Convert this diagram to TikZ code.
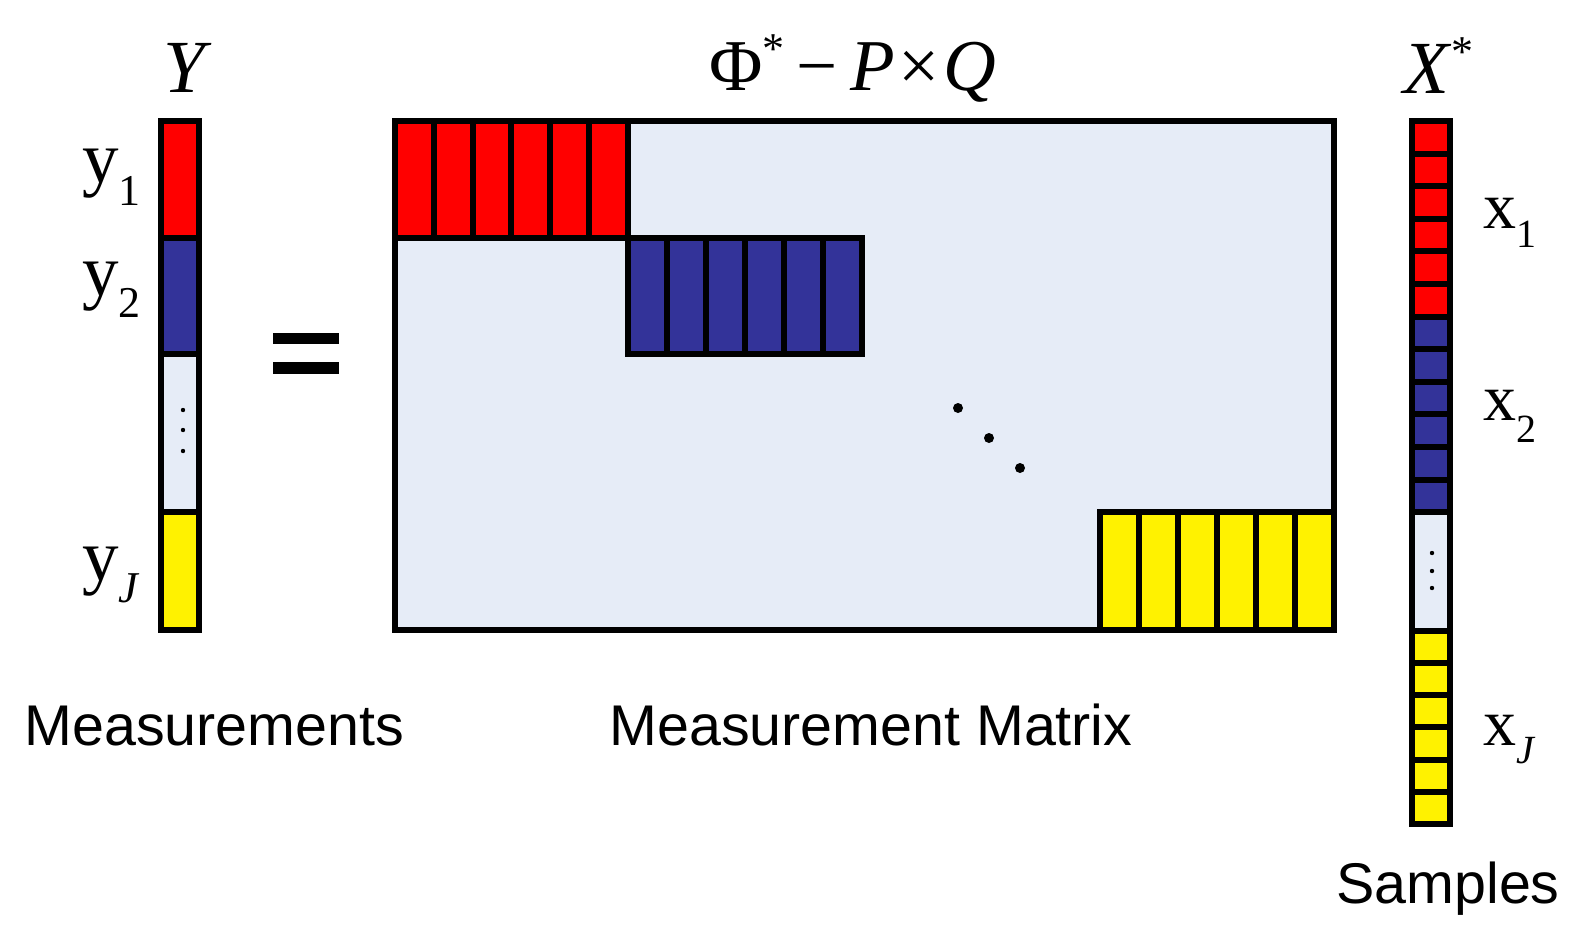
\documentclass[tikz,border=0pt]{standalone}
\usepackage{fontspec}
\setmainfont{Liberation Sans}
\newfontfamily\timesfont{Liberation Serif}
\definecolor{paleblue}{HTML}{E6ECF7}
\definecolor{darkblue}{HTML}{333399}
% lowered subscript: drop, size, text
\newcommand{\lowsub}[3]{\raisebox{-#1}{\fontsize{#2}{#2}\selectfont #3}}
\newcommand{\highstar}{\raisebox{13.5pt}{\fontsize{22}{22}\selectfont *}}

\begin{document}
\begin{tikzpicture}[x=0.5pt, y=-0.5pt,
    cell/.style={draw=black, line width=3pt},
    caption/.style={anchor=base west, inner sep=0pt, font=\fontsize{28.7}{34}\selectfont},
    symbol/.style={anchor=base west, inner sep=0pt, font=\timesfont\fontsize{36.5}{40}\selectfont},
    smallsymbol/.style={symbol, font=\timesfont\fontsize{33}{36}\selectfont}
]
    \useasboundingbox (0,0) rectangle (1576,938);

    % Measurements Y
    \draw[cell, fill=red] (161,121) rectangle (199,238);
    \draw[cell, fill=darkblue] (161,238) rectangle (199,354);
    \draw[cell, fill=paleblue] (161,354) rectangle (199,512);
    \draw[cell, fill=yellow] (161,512) rectangle (199,630);
    \foreach \y in {410,430,451}
        \fill (183,\y) circle[radius=2.2];

    \node[symbol, anchor=base, font=\timesfont\itshape\fontsize{37.5}{40}\selectfont] (ylabel) at (184,92) {Y};
    \node[symbol] (y1) at (82,182) {y\lowsub{11.5pt}{22pt}{1}};
    \node[symbol] (y2) at (82,295) {y\lowsub{11pt}{22pt}{2}};
    \node[symbol] (yj) at (82,580) {y\lowsub{11pt}{22pt}{\textit{J}}};

    % Equals sign
    \fill (273,333) rectangle (339,344);
    \fill (273,362) rectangle (339,374);

    % Measurement matrix
    \draw[cell, fill=paleblue] (395,121) rectangle (1334,630);
    \foreach \i in {0,...,5} {
        \draw[cell, fill=red] ({395+\i*38.83},121) rectangle ({395+(\i+1)*38.83},238);
        \draw[cell, fill=darkblue] ({628+\i*39},238) rectangle ({628+(\i+1)*39},354);
        \draw[cell, fill=yellow] ({1100+\i*39},512) rectangle ({1100+(\i+1)*39},630);
    }
    \draw[cell] (395,121) rectangle (1334,630);
    \fill (958,408) circle[radius=5];
    \fill (989,438) circle[radius=5];
    \fill (1020,468) circle[radius=5];

    \node[symbol, anchor=base] (philabel) at (853,90)
        {Φ\highstar\,−\,\textit{P}\hspace{2pt}×\hspace{2pt}\textit{Q}};

    % Samples X*
    \foreach \i in {0,...,5} {
        \draw[cell, fill=red] (1412,{121+\i*32.6}) rectangle (1450,{121+(\i+1)*32.6});
        \draw[cell, fill=darkblue] (1412,{316.6+\i*32.6}) rectangle (1450,{316.6+(\i+1)*32.6});
        \draw[cell, fill=yellow] (1412,{630.5+\i*32.25}) rectangle (1450,{630.5+(\i+1)*32.25});
    }
    \draw[cell, fill=paleblue] (1412,512.2) rectangle (1450,630.5);
    \foreach \y in {553,571,588}
        \fill (1432,\y) circle[radius=2.2];

    \node[symbol, font=\timesfont\fontsize{37.5}{40}\selectfont] (xlabel) at (1403,93) {\textit{X}\highstar};
    \node[smallsymbol] (x1) at (1483,228) {x\lowsub{9.5pt}{20pt}{1}};
    \node[smallsymbol] (x2) at (1483,420) {x\lowsub{11pt}{20pt}{2}};
    \node[smallsymbol] (xj) at (1483,745) {x\lowsub{9pt}{20pt}{\textit{J}}};

    % Captions
    \node[caption] (meas) at (24,745) {Measurements};
    \node[caption] (matrix) at (609,745) {Measurement Matrix};
    \node[caption] (samples) at (1336,903) {Samples};
\end{tikzpicture}
\end{document}
